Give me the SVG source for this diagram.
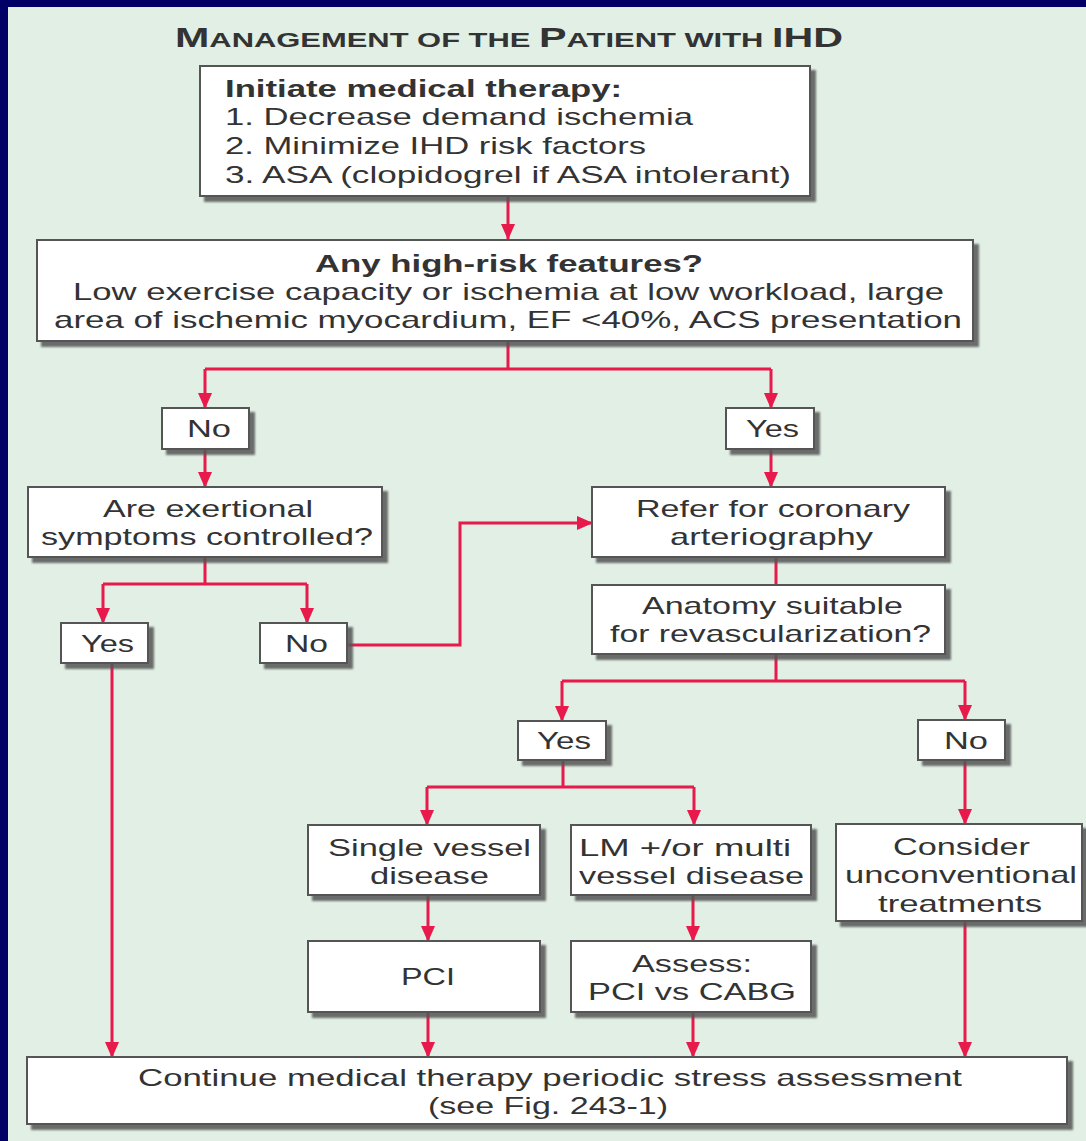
<svg xmlns="http://www.w3.org/2000/svg" width="1086" height="1141" viewBox="0 0 1086 1141">
<defs>
<filter id="sh" x="-5%" y="-5%" width="115%" height="125%">
<feDropShadow dx="5" dy="5" stdDeviation="1.2" flood-color="#555" flood-opacity="0.85"/>
</filter>
<marker id="ah" markerUnits="userSpaceOnUse" markerWidth="16" markerHeight="16" viewBox="0 0 16 16" refX="15" refY="8" orient="auto">
<path d="M0,1 L16,8 L0,15 Z" fill="#e8194b"/>
</marker>
<style>
.bx{fill:#fff;stroke:#555;stroke-width:2;filter:url(#sh)}
text{font-family:"Liberation Sans",Arial,sans-serif;font-size:24px;fill:#333}
.b{font-weight:bold}
.c{fill:none;stroke:#e8194b;stroke-width:3}
.a{marker-end:url(#ah)}
</style>
</defs>
<rect x="0" y="0" width="1086" height="1141" fill="#e1efe5"/>
<rect x="0" y="0" width="1086" height="7" fill="#000066"/>
<rect x="0" y="0" width="8" height="1141" fill="#000066"/>

<text x="175" y="47" class="b" textLength="668" lengthAdjust="spacingAndGlyphs" style="fill:#333"><tspan font-size="28">M</tspan><tspan font-size="21">ANAGEMENT OF THE </tspan><tspan font-size="28">P</tspan><tspan font-size="21">ATIENT WITH </tspan><tspan font-size="28">IHD</tspan></text>

<g id="connectors">
<path class="c a" d="M508,196 V239"/>
<path class="c" d="M508,342 V369 M205,369 H771"/>
<path class="c a" d="M205,369 V408"/>
<path class="c a" d="M771,369 V408"/>
<path class="c a" d="M205,449 V487"/>
<path class="c a" d="M771,449 V487"/>
<path class="c" d="M205,557 V584 M103,584 H307"/>
<path class="c a" d="M103,584 V623"/>
<path class="c a" d="M307,584 V623"/>
<path class="c a" d="M348,645 H460 V523 H592"/>
<path class="c" d="M776,557 V585"/>
<path class="c" d="M776,654 V681 M562,681 H965"/>
<path class="c a" d="M562,681 V721"/>
<path class="c a" d="M965,681 V720"/>
<path class="c" d="M563,760 V787 M427,787 H694"/>
<path class="c a" d="M427,787 V825"/>
<path class="c a" d="M694,787 V825"/>
<path class="c a" d="M965,760 V824"/>
<path class="c a" d="M428,895 V941"/>
<path class="c a" d="M693,895 V941"/>
<path class="c a" d="M112,663 V1057"/>
<path class="c a" d="M428,1012 V1057"/>
<path class="c a" d="M693,1012 V1057"/>
<path class="c a" d="M965,921 V1057"/>
</g>

<g id="n-initiate">
<rect class="bx" x="200" y="66" width="610" height="130"/>
<text x="225" y="97" class="b" textLength="397" lengthAdjust="spacingAndGlyphs">Initiate medical therapy:</text>
<text x="225" y="125" textLength="468" lengthAdjust="spacingAndGlyphs">1. Decrease demand ischemia</text>
<text x="225" y="154" textLength="421" lengthAdjust="spacingAndGlyphs">2. Minimize IHD risk factors</text>
<text x="225" y="183" textLength="566" lengthAdjust="spacingAndGlyphs">3. ASA (clopidogrel if ASA intolerant)</text>
</g>

<g id="n-highrisk">
<rect class="bx" x="37" y="240" width="936" height="101"/>
<text x="315" y="272" class="b" textLength="388" lengthAdjust="spacingAndGlyphs">Any high-risk features?</text>
<text x="73" y="300" textLength="871" lengthAdjust="spacingAndGlyphs">Low exercise capacity or ischemia at low workload, large</text>
<text x="54" y="328" textLength="908" lengthAdjust="spacingAndGlyphs">area of ischemic myocardium, EF &lt;40%, ACS presentation</text>
</g>

<g id="n-no1">
<rect class="bx" x="162" y="408" width="87" height="41"/>
<text x="187" y="437" textLength="44" lengthAdjust="spacingAndGlyphs">No</text>
</g>

<g id="n-yes1">
<rect class="bx" x="726" y="408" width="88" height="41"/>
<text x="746" y="437" textLength="53" lengthAdjust="spacingAndGlyphs">Yes</text>
</g>

<g id="n-exertional">
<rect class="bx" x="28" y="487" width="354" height="70"/>
<text x="103" y="517" textLength="210" lengthAdjust="spacingAndGlyphs">Are exertional</text>
<text x="41" y="545" textLength="332" lengthAdjust="spacingAndGlyphs">symptoms controlled?</text>
</g>

<g id="n-yes2">
<rect class="bx" x="61" y="623" width="87" height="40"/>
<text x="81" y="652" textLength="53" lengthAdjust="spacingAndGlyphs">Yes</text>
</g>

<g id="n-no2">
<rect class="bx" x="260" y="623" width="87" height="40"/>
<text x="285" y="652" textLength="43" lengthAdjust="spacingAndGlyphs">No</text>
</g>

<g id="n-refer">
<rect class="bx" x="592" y="487" width="353" height="70"/>
<text x="636" y="517" textLength="274" lengthAdjust="spacingAndGlyphs">Refer for coronary</text>
<text x="670" y="545" textLength="203" lengthAdjust="spacingAndGlyphs">arteriography</text>
</g>

<g id="n-anatomy">
<rect class="bx" x="592" y="585" width="353" height="69"/>
<text x="642" y="614" textLength="261" lengthAdjust="spacingAndGlyphs">Anatomy suitable</text>
<text x="610" y="642" textLength="321" lengthAdjust="spacingAndGlyphs">for revascularization?</text>
</g>

<g id="n-yes3">
<rect class="bx" x="518" y="721" width="88" height="39"/>
<text x="537" y="749" textLength="54" lengthAdjust="spacingAndGlyphs">Yes</text>
</g>

<g id="n-no3">
<rect class="bx" x="918" y="720" width="87" height="40"/>
<text x="944" y="749" textLength="44" lengthAdjust="spacingAndGlyphs">No</text>
</g>

<g id="n-single">
<rect class="bx" x="308" y="825" width="232" height="70"/>
<text x="328" y="856" textLength="203" lengthAdjust="spacingAndGlyphs">Single vessel</text>
<text x="370" y="884" textLength="119" lengthAdjust="spacingAndGlyphs">disease</text>
</g>

<g id="n-lm">
<rect class="bx" x="571" y="825" width="240" height="70"/>
<text x="579" y="856" textLength="212" lengthAdjust="spacingAndGlyphs">LM +/or multi</text>
<text x="579" y="884" textLength="225" lengthAdjust="spacingAndGlyphs">vessel disease</text>
</g>

<g id="n-consider">
<rect class="bx" x="836" y="824" width="246" height="97"/>
<text x="893" y="855" textLength="137" lengthAdjust="spacingAndGlyphs">Consider</text>
<text x="845" y="883" textLength="232" lengthAdjust="spacingAndGlyphs">unconventional</text>
<text x="878" y="912" textLength="164" lengthAdjust="spacingAndGlyphs">treatments</text>
</g>

<g id="n-pci">
<rect class="bx" x="308" y="941" width="232" height="71"/>
<text x="401" y="985" textLength="54" lengthAdjust="spacingAndGlyphs">PCI</text>
</g>

<g id="n-assess">
<rect class="bx" x="571" y="941" width="240" height="71"/>
<text x="632" y="972" textLength="120" lengthAdjust="spacingAndGlyphs">Assess:</text>
<text x="588" y="1000" textLength="208" lengthAdjust="spacingAndGlyphs">PCI vs CABG</text>
</g>

<g id="n-continue">
<rect class="bx" x="27" y="1057" width="1040" height="67"/>
<text x="138" y="1086" textLength="824" lengthAdjust="spacingAndGlyphs">Continue medical therapy periodic stress assessment</text>
<text x="428" y="1114" textLength="240" lengthAdjust="spacingAndGlyphs">(see Fig. 243-1)</text>
</g>
</svg>
